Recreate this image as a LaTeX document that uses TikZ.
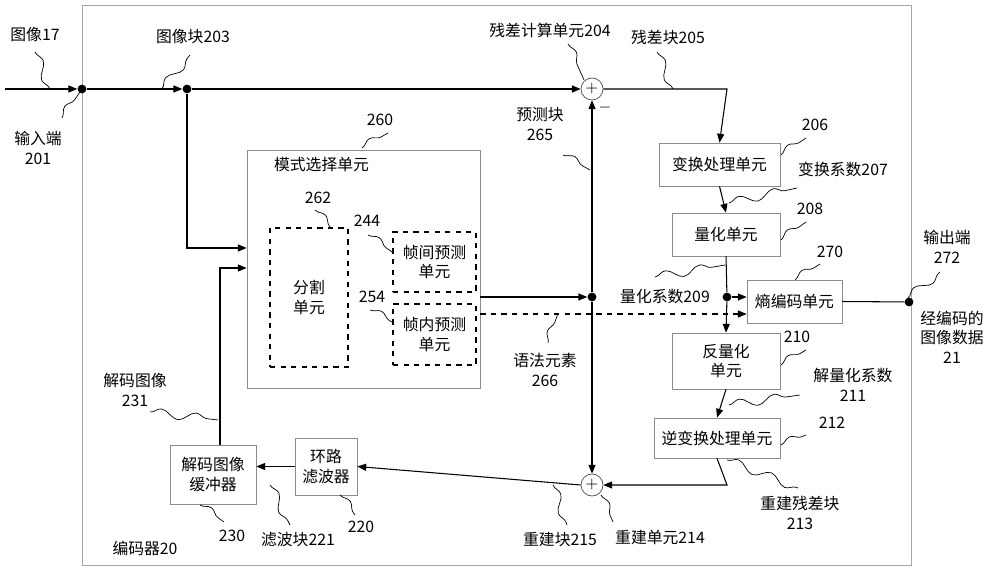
\documentclass[tikz,border=0pt]{standalone}
\usepackage{fontspec}
\setmainfont{Noto Sans CJK SC}
\usetikzlibrary{arrows.meta,decorations.pathmorphing,positioning}
\tikzset{
  blk/.style={draw=black!45, fill=white, inner sep=1pt, align=center},
  dblk/.style={draw, thick, dashed, inner sep=1pt, align=center},
  lbl/.style={align=center, inner sep=1pt},
  flow/.style={semithick, -{Triangle[length=5pt,width=4pt]}},
  wire/.style={semithick},
  dot/.style={circle, fill=black, inner sep=0pt, minimum size=5pt},
  sum/.style={circle, draw=black!70, fill=white, inner sep=0pt, minimum size=22\unit},
  wig/.style={thin, decorate, decoration={snake, amplitude=2.5pt, segment length=20pt}}
}
\def\unit{*0.02cm}
\begin{document}
\fontsize{9}{11}\selectfont
\begin{tikzpicture}[x=0.02cm, y=-0.02cm]
	\useasboundingbox (0,0) rectangle (1000,570);
	% encoder frame
	\draw[black!35] (82,5) rectangle (911,565);
	\node[lbl] (enc) at (145,548) {编码器20};
	% main blocks
	\node[blk, minimum width=233\unit, minimum height=238\unit] (mode) at (363.5,269) {};
	\node[lbl, anchor=north west] (modet) at (272,155) {模式选择单元};
	\node[dblk, minimum width=78\unit, minimum height=139\unit] (part) at (309,297.5) {分割\\单元};
	\node[dblk, minimum width=83\unit, minimum height=60\unit] (inter) at (434.5,262) {帧间预测\\单元};
	\node[dblk, minimum width=83\unit, minimum height=61\unit] (intra) at (434.5,334.5) {帧内预测\\单元};
	\node[blk, minimum width=121\unit, minimum height=43\unit] (tr) at (719.5,164.5) {变换处理单元};
	\node[blk, minimum width=108\unit, minimum height=43\unit] (q) at (726,234.5) {量化单元};
	\node[blk, minimum width=95\unit, minimum height=43\unit] (ent) at (794.5,301.5) {熵编码单元};
	\node[blk, minimum width=108\unit, minimum height=56\unit] (iq) at (726,361) {反量化\\单元};
	\node[blk, minimum width=126\unit, minimum height=40\unit] (itr) at (717,438) {逆变换处理单元};
	\node[blk, minimum width=62\unit, minimum height=57\unit] (lf) at (326,466.5) {环路\\滤波器};
	\node[blk, minimum width=86\unit, minimum height=59\unit] (dpb) at (213,474.5) {解码图像\\缓冲器};
	\node[sum] (s1) at (592,89) {$+$};
	\node[sum] (s2) at (592,485) {$+$};
	\node[lbl] (minus) at (605,108) {$-$};
	% points
	\coordinate (in) at (5,89);
	\node[dot] (d1) at (82,89) {};
	\node[dot] (d2) at (187,89) {};
	\node[dot] (d3) at (592,297) {};
	\node[dot] (d4) at (727,297) {};
	\node[dot] (d5) at (909,302) {};
	\coordinate (c1) at (727,89);
	\coordinate (c2) at (187,248);
	\coordinate (c3) at (220,268);
	\coordinate (c4) at (727,485);
	% connectors
	\draw[flow] (in) -- (d1);
	\draw[flow] (d1) -- (d2);
	\draw[flow] (d2) -- (s1);
	\draw[flow] (s1.east) -- (c1) -- (tr.north);
	\draw[flow] (tr.south) -- (q.north);
	\draw[wire] (q.south) -- (d4);
	\draw[flow] (d4) -- (iq.north);
	\draw[flow] (d4) -- (d4 -| ent.west);
	\draw[wire] (ent.east) -- (d5);
	\draw[flow] (iq.south) -- (itr.north);
	\draw[flow] (itr.south) -- (c4) -- (s2.east);
	\draw[flow] (s2.west) -- (lf.east);
	\draw[flow] (lf.west) -- (lf.west -| dpb.east);
	\draw[flow] (dpb.north -| c3) -- (c3) -- (c3 -| mode.west);
	\draw[flow] (d2) -- (c2) -- (c2 -| mode.west);
	\draw[flow] (mode.east |- d3) -- (d3);
	\draw[flow] (d3) -- (s1.south);
	\draw[flow] (d3) -- (s2.north);
	\draw[semithick, dashed, -{Triangle[length=5pt,width=4pt]}] (mode.east |- 0,314) -- (ent.west |- 0,314);
	% labels with leaders
	\node[lbl] (l17) at (35,35) {图像17};
	\draw[wig] (35,52) -- (50,89);
	\node[lbl] (l201) at (38,148) {输入端\\201};
	\draw[wig] (62,118) -- (80,92);
	\node[lbl] (l203) at (193,37) {图像块203};
	\draw[wig] (162,89) -- (190,55);
	\node[lbl] (l204) at (550,30) {残差计算单元204};
	\draw[wig] (568,44) -- (584,80);
	\node[lbl] (l205) at (668,37) {残差块205};
	\draw[wig] (657,52) -- (673,89);
	\node[lbl] (l265) at (540,124) {预测块\\265};
	\draw[wig] (563,155) -- (590,170);
	\node[lbl] (l260) at (380,120) {260};
	\draw[wig] (362,148) -- (388,133);
	\node[lbl] (l262) at (318,198) {262};
	\draw[wig] (315,210) -- (331,228);
	\node[lbl] (l244) at (367,221) {244};
	\draw[wig] (368,235) -- (392,252);
	\node[lbl] (l254) at (372,297) {254};
	\draw[wig] (370,310) -- (392,322);
	\node[lbl] (l206) at (815,125) {206};
	\draw[wig] (781,155) -- (806,138);
	\node[lbl] (l207) at (843,169) {变换系数207};
	\draw[wig] (729,203) -- (797,188);
	\node[lbl] (l208) at (810,209) {208};
	\draw[wig] (781,240) -- (806,222);
	\node[lbl] (l209) at (665,297) {量化系数209};
	\draw[wig] (655,277) -- (725,265);
	\node[lbl] (l270) at (830,252) {270};
	\draw[wig] (795,280) -- (820,264);
	\node[lbl] (l272) at (947,247) {输出端\\272};
	\draw[wig] (908,298) -- (940,272);
	\node[lbl] (l21) at (952,337) {经编码的\\图像数据\\21};
	\node[lbl] (l266) at (545,370) {语法元素\\266};
	\draw[wig] (548,343) -- (558,313);
	\node[lbl] (l210) at (797,337) {210};
	\draw[wig] (781,365) -- (806,350);
	\node[lbl] (l211) at (853,385) {解量化系数\\211};
	\draw[wig] (729,405) -- (800,395);
	\node[lbl] (l212) at (832,423) {212};
	\draw[wig] (781,445) -- (806,435);
	\node[lbl] (l213) at (800,513) {重建残差块\\213};
	\draw[wig] (727,460) -- (798,488);
	\node[lbl] (l215) at (560,540) {重建块215};
	\draw[wig] (553,485) -- (567,525);
	\node[lbl] (l214) at (660,537) {重建单元214};
	\draw[wig] (601,495) -- (613,522);
	\node[lbl] (l231) at (135,390) {解码图像\\231};
	\draw[wig] (150,412) -- (218,420);
	\node[lbl] (l230) at (232,536) {230};
	\draw[wig] (200,505) -- (224,522);
	\node[lbl] (l221) at (298,540) {滤波块221};
	\draw[wig] (270,485) -- (290,525);
	\node[lbl] (l220) at (361,527) {220};
	\draw[wig] (340,495) -- (355,515);
\end{tikzpicture}
\end{document}
